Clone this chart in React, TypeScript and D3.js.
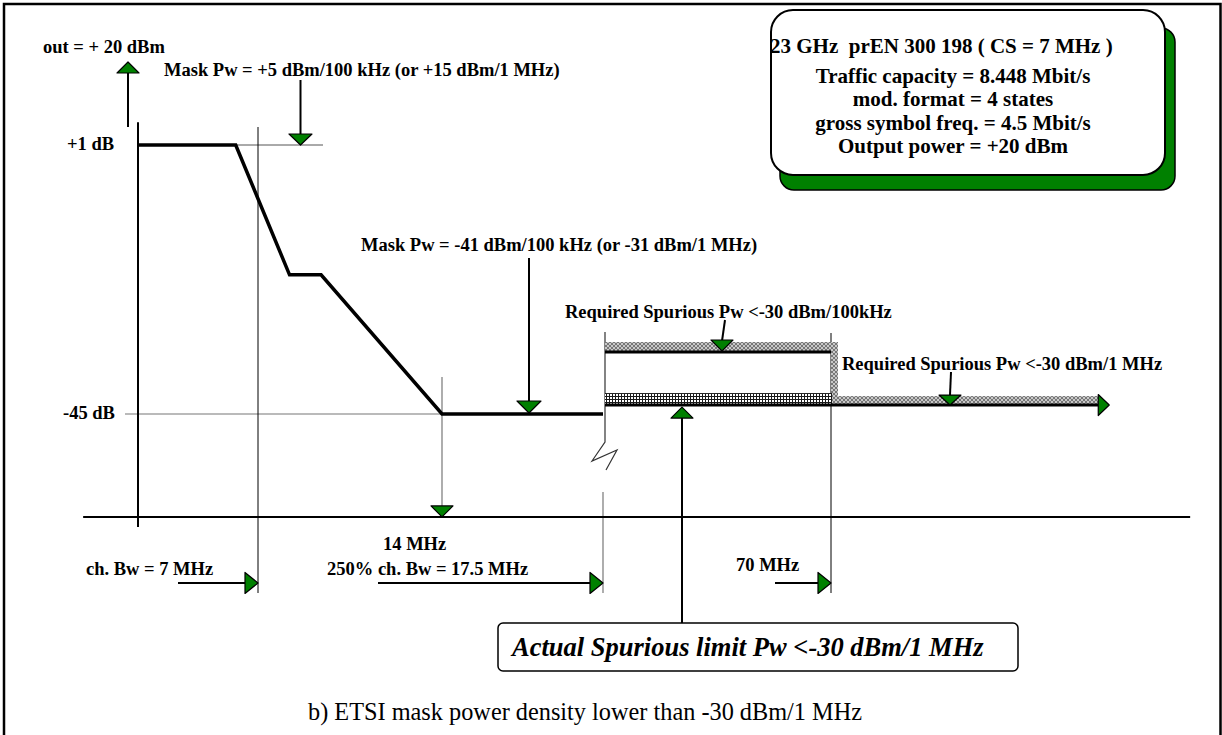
import React from "react";
import * as d3 from "d3";

const W = 1222;
const H = 735;

// ---- schematic data (frequency offset in MHz, level in dB) ----
const freqBreaks = [0, 7, 14, 17.5, 70];
const maskFreq = [0, 5.7, 8.2, 9.4, 14, 17.5];
const maskDb = [1, 1, -21.2, -21.2, -45, -45];
const levelDb = [1, -45];
const levelLabels = ["+1 dB", "-45 dB"];
const spurStartFreq = 17.5;
const spurStepFreq = 70;
const spurEndFreq = 132;
const spur100kDb = -34.4;
const spur1MDb = -43.3;
const axisDb = -62.6;
const axisTopDb = 4.9;
const axisFreqRange = [-3.2, 152.7];
const bottomArrowFreqs = [7, 17.5, 70];
const bottomArrowLabels = ["ch. Bw = 7 MHz", "250% ch. Bw = 17.5 MHz", "70 MHz"];
const infoLines = [
  "Traffic capacity = 8.448 Mbit/s",
  "mod. format = 4 states",
  "gross symbol freq. = 4.5 Mbit/s",
  "Output power = +20 dBm",
];
const infoTitle = "23 GHz\u00a0\u00a0prEN 300 198 ( CS = 7 MHz )";

const FONT = "'Liberation Serif', 'Times New Roman', serif";
const GREEN = "#008000";

function DownTri({ x, y, w = 12, h = 11 }: { x: number; y: number; w?: number; h?: number }) {
  return (
    <path
      d={`M${x - w},${y - h} L${x + w},${y - h} L${x},${y} Z`}
      fill={GREEN}
      stroke="#000"
      strokeWidth={1.2}
      strokeLinejoin="round"
    />
  );
}
function UpTri({ x, y, w = 11, h = 11 }: { x: number; y: number; w?: number; h?: number }) {
  return (
    <path
      d={`M${x - w},${y + h} L${x + w},${y + h} L${x},${y} Z`}
      fill={GREEN}
      stroke="#000"
      strokeWidth={1.2}
      strokeLinejoin="round"
    />
  );
}
function RightTri({ x, y, w = 12, h = 10.5 }: { x: number; y: number; w?: number; h?: number }) {
  return (
    <path
      d={`M${x - w},${y - h} L${x - w},${y + h} L${x},${y} Z`}
      fill={GREEN}
      stroke="#000"
      strokeWidth={1.2}
      strokeLinejoin="round"
    />
  );
}

export default function App() {
  const x = d3.scaleLinear().domain(freqBreaks).range([138, 258, 442, 603, 831]);
  const y = d3.scaleLinear().domain([1, -45]).range([145, 414]);

  const maskLine = d3
    .line<number>()
    .x((_, i) => x(maskFreq[i]))
    .y((_, i) => y(maskDb[i]))(maskFreq as any) as string;

  const yAxisX = x(0);
  const xAxisY = y(axisDb);
  const lbl = { fontFamily: FONT, fontWeight: 700, fontSize: 18.5, fill: "#000" } as const;

  const yS100 = y(spur100kDb);
  const yS1M = y(spur1MDb);
  const xs0 = x(spurStartFreq);
  const xs1 = x(spurStepFreq);
  const xs2 = x(spurEndFreq);

  const arrowY = 583;

  return (
    <svg width={W} height={H} style={{ position: "absolute", left: 0, top: 0, background: "#fff" }}>
      <defs>
        <pattern id="xh" width="4" height="4" patternUnits="userSpaceOnUse">
          <rect width="4" height="4" fill="#c8c8c8" />
          <path d="M0,0 L4,4 M4,0 L0,4" stroke="#555" strokeWidth="0.7" />
        </pattern>
        <pattern id="grid" width="3" height="3" patternUnits="userSpaceOnUse">
          <rect width="3" height="3" fill="#fff" />
          <path d="M0,0.5 H3 M0.5,0 V3" stroke="#1a1a1a" strokeWidth="1" />
        </pattern>
      </defs>

      {/* outer frame */}
      <path d={`M4,${H + 5} V4 H1220.5 V${H + 5}`} fill="none" stroke="#000" strokeWidth={2.5} />

      {/* info box */}
      <rect x={780} y={28} width={395} height={162} rx={14} fill={GREEN} stroke="#000" strokeWidth={1.5} />
      <rect x={771} y={10} width={394} height={165} rx={22} fill="#fff" stroke="#000" strokeWidth={2} />
      <text x={770} y={53} style={{ ...lbl, fontSize: 21 }}>{infoTitle}</text>
      {infoLines.map((t, i) => (
        <text key={t} x={953} y={83 + i * 23.3} textAnchor="middle" style={{ ...lbl, fontSize: 21 }}>
          {t}
        </text>
      ))}

      {/* thin guide lines */}
      <line x1={x(5.7)} x2={323} y1={y(1)} y2={y(1)} stroke="#555" strokeWidth={1} />
      <line x1={125} x2={x(14)} y1={y(-45)} y2={y(-45)} stroke="#777" strokeWidth={1.2} />
      <line x1={x(7)} x2={x(7)} y1={127} y2={593} stroke="#000" strokeWidth={1} />
      <line x1={x(14)} x2={x(14)} y1={377} y2={xAxisY - 11} stroke="#777" strokeWidth={1.2} />
      <line x1={x(70)} x2={x(70)} y1={333} y2={593} stroke="#000" strokeWidth={1} />
      {/* 17.5 MHz line with break symbol */}
      <path
        d={`M${xs0 + 2},332 V442 L${xs0 - 11},461 L${xs0 + 14},450 L${xs0 + 3},470`}
        fill="none"
        stroke="#333"
        strokeWidth={1.2}
      />
      <line x1={xs0} x2={xs0} y1={492} y2={593} stroke="#777" strokeWidth={1.2} />

      {/* axes */}
      <line x1={x(axisFreqRange[0])} x2={x(axisFreqRange[1])} y1={xAxisY} y2={xAxisY} stroke="#000" strokeWidth={2} />
      <line x1={yAxisX} x2={yAxisX} y1={y(axisTopDb)} y2={xAxisY + 10} stroke="#000" strokeWidth={2} />

      {/* spurious limit bands */}
      <rect x={xs0 + 2} y={yS100 - 10} width={xs1 - xs0 + 5} height={10} fill="url(#xh)" />
      <rect x={xs1} y={yS100 - 10} width={7} height={yS1M - yS100 + 10} fill="url(#xh)" />
      <rect x={xs1} y={yS1M - 8} width={xs2 - xs1} height={8} fill="url(#xh)" />
      <rect x={xs0 + 2} y={yS1M - 11} width={xs1 - xs0 - 1} height={11} fill="url(#grid)" />
      <line x1={xs0 + 2} x2={xs1} y1={yS100} y2={yS100} stroke="#000" strokeWidth={3} />
      <line x1={xs0 + 2} x2={xs2 - 2} y1={yS1M + 1} y2={yS1M + 1} stroke="#000" strokeWidth={3} />
      <RightTri x={xs2 + 9} y={yS1M + 1} w={11} h={10.5} />

      {/* mask */}
      <path d={maskLine} fill="none" stroke="#000" strokeWidth={3.5} strokeLinejoin="miter" />

      {/* level labels */}
      {levelDb.map((d, i) => (
        <text key={d} x={i === 0 ? 67 : 63} y={y(d) + 5} style={lbl}>
          {levelLabels[i]}
        </text>
      ))}

      {/* output power arrow */}
      <text x={43} y={53} style={lbl}>out = + 20 dBm</text>
      <line x1={128} x2={128} y1={127} y2={73} stroke="#000" strokeWidth={2} />
      <UpTri x={128} y={62} />

      {/* mask annotations */}
      <text x={164} y={76} style={lbl}>Mask Pw = +5 dBm/100 kHz (or +15 dBm/1 MHz)</text>
      <line x1={300.5} x2={300.5} y1={80} y2={134} stroke="#000" strokeWidth={2} />
      <DownTri x={300.5} y={y(1)} w={11.5} h={11} />

      <text x={361} y={251} style={lbl}>Mask Pw = -41 dBm/100 kHz (or -31 dBm/1 MHz)</text>
      <line x1={529} x2={529} y1={258} y2={402} stroke="#000" strokeWidth={2} />
      <DownTri x={529} y={y(-45) - 1} w={12} h={12} />

      {/* 14 MHz */}
      <DownTri x={x(14)} y={xAxisY} w={11} h={11} />
      <text x={383} y={550} style={lbl}>14 MHz</text>

      {/* spurious annotations */}
      <text x={565} y={318} style={lbl}>Required Spurious Pw &lt;-30 dBm/100kHz</text>
      <line x1={725} x2={722} y1={320} y2={341} stroke="#000" strokeWidth={2} />
      <DownTri x={722} y={yS100 - 1} w={11} h={11} />

      <text x={842} y={370} style={lbl}>Required Spurious Pw &lt;-30 dBm/1 MHz</text>
      <line x1={951} x2={950} y1={372} y2={395} stroke="#000" strokeWidth={2} />
      <DownTri x={950} y={yS1M + 1} w={11} h={10} />

      {/* actual limit */}
      <UpTri x={682} y={yS1M + 3} w={11} h={11} />
      <line x1={682} x2={682} y1={yS1M + 14} y2={623} stroke="#000" strokeWidth={2} />
      <rect x={498} y={623} width={520} height={48} rx={5} fill="#fff" stroke="#000" strokeWidth={1.5} />
      <text x={512} y={656} style={{ ...lbl, fontSize: 26.5, fontStyle: "italic" }}>
        Actual Spurious limit Pw &lt;-30 dBm/1 MHz
      </text>

      {/* bottom arrows */}
      {bottomArrowFreqs.map((f, i) => {
        const tx = [86, 327, 736][i];
        const ty = [575, 575, 571][i];
        const start = [178, 378, 775][i];
        return (
          <g key={f}>
            <text x={tx} y={ty} style={lbl}>{bottomArrowLabels[i]}</text>
            <line x1={start} x2={x(f) - 12} y1={arrowY} y2={arrowY} stroke="#000" strokeWidth={2} />
            <RightTri x={x(f)} y={arrowY} w={13} h={10.5} />
          </g>
        );
      })}

      {/* caption */}
      <text x={308} y={720} style={{ fontFamily: FONT, fontSize: 24.3, fill: "#000" }}>
        b) ETSI mask power density lower than -30 dBm/1 MHz
      </text>
    </svg>
  );
}
